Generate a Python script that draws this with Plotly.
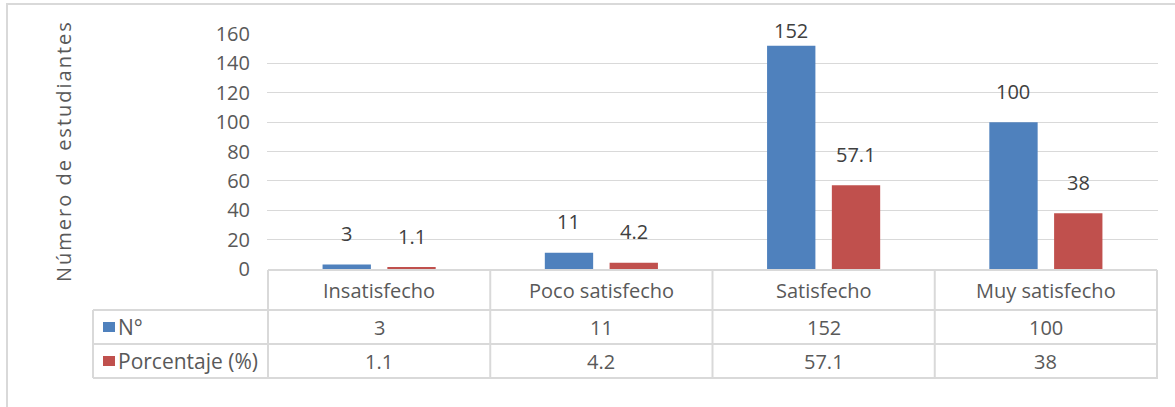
import plotly.graph_objects as go

categorias = ["Insatisfecho", "Poco satisfecho", "Satisfecho", "Muy satisfecho"]
n_estudiantes = [3, 11, 152, 100]
porcentaje = [1.1, 4.2, 57.1, 38]
series = ["N°", "Porcentaje (%)"]
colores = ["#4F81BD", "#C0504D"]
y_ticks = [0, 20, 40, 60, 80, 100, 120, 140, 160]

W, H = 1175, 407
L, R, T, B = 267, 17, 34, 138
PW, PH = W - L - R, H - T - B
GRID = "#D9D9D9"
TXT = "#595959"
FONT = "Open Sans"
FS = 20


def px_x(px):
    return (px - L) / PW


def px_y(py):
    return (H - B - py) / PH


fig = go.Figure()
for nombre, vals, col in zip(series, [n_estudiantes, porcentaje], colores):
    fig.add_trace(go.Bar(name=nombre, x=categorias, y=vals,
                         marker=dict(color=col, line_width=0),
                         hoverinfo="x+y"))

fig.update_layout(
    width=W, height=H,
    margin=dict(l=L, r=R, t=T, b=B),
    paper_bgcolor="white", plot_bgcolor="white",
    barmode="group", bargap=0.417, bargroupgap=0.254,
    showlegend=False,
    font=dict(family=FONT, size=FS, color=TXT),
    xaxis=dict(showticklabels=False, showgrid=False, zeroline=False,
               showline=False, ticks=""),
    yaxis=dict(range=[0, 160], tickvals=y_ticks, showgrid=True,
               gridcolor=GRID, gridwidth=1, zeroline=False, showline=False,
               ticks="", ticklabelstandoff=16,
               tickfont=dict(family=FONT, size=FS, color=TXT)),
)

ann = []
shapes = []

# etiquetas de datos
for k, vals in enumerate([n_estudiantes, porcentaje]):
    dx = -32.5 if k == 0 else 32.5
    for cat, v in zip(categorias, vals):
        top_px = (H - B) - v * PH / 160
        shift = min(31, top_px - 30)
        ann.append(dict(x=cat, y=v, xref="x", yref="y", xshift=dx,
                        yshift=shift, text=str(v), showarrow=False,
                        yanchor="middle",
                        font=dict(family=FONT, size=FS, color="#404040")))

# titulo eje y
ann.append(dict(x=px_x(48), y=0.5, xref="paper", yref="paper",
                text='<span style="letter-spacing:2px">Número de estudiantes</span>',
                textangle=-90, showarrow=False,
                font=dict(family=FONT, size=FS, color=TXT)))

# tabla de datos
row_y = [(270, 310), (310, 344), (344, 378)]
line = dict(color=GRID, width=2)
shapes.append(dict(type="line", xref="x", yref="paper", x0=-0.5, x1=3.5,
                   y0=px_y(270), y1=px_y(270), line=line))
for py in [310, 344, 378]:
    shapes.append(dict(type="line", xref="paper", yref="paper", x0=px_x(93),
                       x1=1, y0=px_y(py), y1=px_y(py), line=line))
shapes.append(dict(type="line", xref="paper", yref="paper", x0=px_x(93),
                   x1=px_x(93), y0=px_y(310), y1=px_y(378), line=line))
for i in range(len(categorias) + 1):
    shapes.append(dict(type="line", xref="x", yref="paper", x0=i - 0.5,
                       x1=i - 0.5, y0=px_y(270), y1=px_y(378), line=line))

for cat in categorias:
    ann.append(dict(x=cat, y=px_y(sum(row_y[0]) / 2), xref="x", yref="paper",
                    text=cat, showarrow=False, yanchor="middle"))
for r, (nombre, vals, col) in enumerate(zip(series, [n_estudiantes, porcentaje], colores)):
    yc = sum(row_y[r + 1]) / 2
    shapes.append(dict(type="rect", xref="paper", yref="paper",
                       x0=px_x(103), x1=px_x(115), y0=px_y(yc - 5),
                       y1=px_y(yc + 5), fillcolor=col, line_width=0))
    ann.append(dict(x=px_x(116), y=px_y(yc), xref="paper", yref="paper",
                    text=nombre, showarrow=False, xanchor="left",
                    yanchor="middle", font=dict(size=21)))
    for cat, v in zip(categorias, vals):
        ann.append(dict(x=cat, y=px_y(yc), xref="x", yref="paper",
                        text=str(v), showarrow=False, yanchor="middle"))

# borde exterior
shapes.append(dict(type="rect", xref="paper", yref="paper", x0=px_x(7),
                   x1=px_x(W + 10), y0=px_y(4), y1=px_y(H + 10),
                   line=dict(color=GRID, width=2), layer="below"))

fig.update_layout(annotations=ann, shapes=shapes)
fig.write_html("out.html", config={"displayModeBar": False},
               post_script="document.body.style.margin='0';")
